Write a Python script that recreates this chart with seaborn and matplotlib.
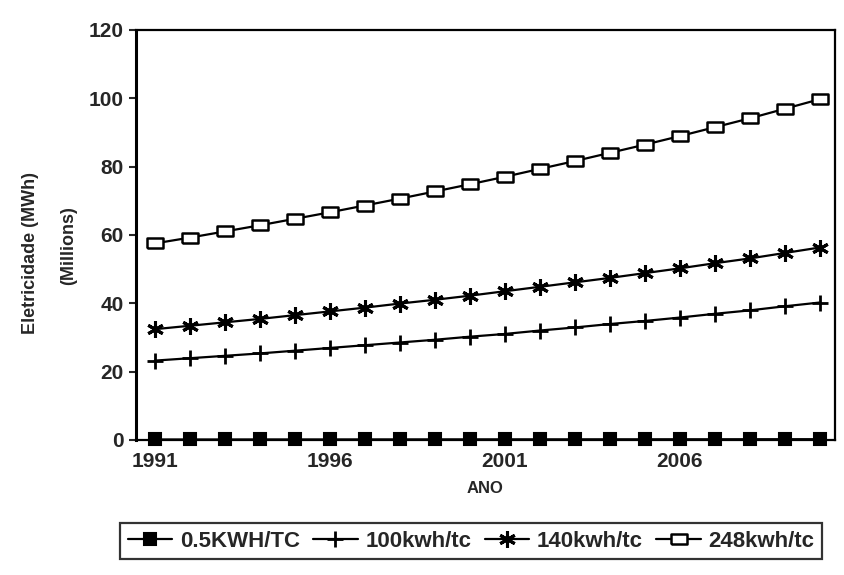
import numpy as np
import matplotlib
matplotlib.use('Agg')
import matplotlib.pyplot as plt
import seaborn as sns
import pandas as pd

sns.set_style('ticks')
plt.rcParams['font.family'] = ['Liberation Sans', 'DejaVu Sans']
plt.rcParams['font.weight'] = 'bold'

# data (millions of MWh)
anos = list(range(1991, 2011))
s05 = [0.12, 0.12, 0.12, 0.13, 0.13, 0.13, 0.14, 0.14, 0.15, 0.15,
       0.16, 0.16, 0.16, 0.17, 0.17, 0.18, 0.18, 0.19, 0.20, 0.20]
s100 = [23.2, 23.9, 24.6, 25.3, 26.1, 26.9, 27.7, 28.5, 29.3, 30.2,
        31.0, 32.0, 32.9, 33.9, 34.8, 35.8, 36.9, 37.9, 39.1, 40.2]
s140 = [32.4, 33.4, 34.4, 35.4, 36.5, 37.6, 38.7, 39.9, 41.0, 42.2,
        43.5, 44.8, 46.1, 47.4, 48.8, 50.2, 51.7, 53.1, 54.7, 56.3]
s248 = [57.5, 59.2, 61.0, 62.8, 64.7, 66.6, 68.6, 70.6, 72.7, 74.8,
        77.0, 79.3, 81.6, 84.0, 86.4, 88.9, 91.5, 94.1, 96.9, 99.7]
nomes = ['0.5KWH/TC', '100kwh/tc', '140kwh/tc', '248kwh/tc']
tick_anos = [1991, 1996, 2001, 2006]

df = pd.DataFrame({'ANO': anos * 4,
                   'valor': s05 + s100 + s140 + s248,
                   'serie': np.repeat(nomes, len(anos))})

# wide open rectangle like the old Lotus marker
retangulo = [(-1, -0.62), (1, -0.62), (1, 0.62), (-1, 0.62), (-1, -0.62)]
estilos = {
    '0.5KWH/TC': dict(marker='s', ms=9, mfc='black', mew=1.5),
    '100kwh/tc': dict(marker='+', ms=12, mew=2),
    '140kwh/tc': dict(marker=(6, 2, 0), ms=12, mew=2.2),
    '248kwh/tc': dict(marker=retangulo, ms=11, mfc='white', mew=1.8),
}

fig = plt.figure(figsize=(8.44, 5.75), dpi=100)
ax = fig.add_axes([0.161, 0.235, 0.828, 0.713])

for nome in nomes:
    sns.lineplot(data=df[df['serie'] == nome], x='ANO', y='valor', ax=ax,
                 color='black', lw=1.6, mec='black', label=nome,
                 clip_on=False, zorder=3, **estilos[nome])

ax.set_xlim(1991 - 0.54, 2010 + 0.43)
ax.set_ylim(0, 120)
ax.set_yticks(range(0, 121, 20))
ax.set_xticks(tick_anos)
ax.tick_params(axis='y', length=5, width=1.5, labelsize=15, pad=4)
ax.tick_params(axis='x', length=0, labelsize=15, pad=9)
for lab in ax.get_xticklabels() + ax.get_yticklabels():
    lab.set_fontweight('bold')
for sp in ax.spines.values():
    sp.set_visible(True)
    sp.set_color('black')
    sp.set_linewidth(1.6)
ax.spines['left'].set_linewidth(2.2)

ax.set_xlabel('ANO', fontsize=12, fontweight='bold', labelpad=7)
ax.set_ylabel('')
fig.text(0.036, 0.56, 'Eletricidade (MWh)', rotation=90, fontsize=13,
         fontweight='bold', ha='center', va='center')
fig.text(0.081, 0.573, '(Millions)', rotation=90, fontsize=13,
         fontweight='bold', ha='center', va='center')

h, l = ax.get_legend_handles_labels()
ax.get_legend().remove()
leg = fig.legend(h, l, loc='center left', bbox_to_anchor=(0.142, 0.059),
                 ncol=4, frameon=True, fancybox=False, edgecolor='black',
                 fontsize=16, handlelength=2.0, columnspacing=0.6,
                 handletextpad=0.35, borderpad=0.35, borderaxespad=0)
leg.get_frame().set_linewidth(1.6)
for t in leg.get_texts():
    t.set_fontweight('bold')

fig.savefig('out.png', dpi=100)
